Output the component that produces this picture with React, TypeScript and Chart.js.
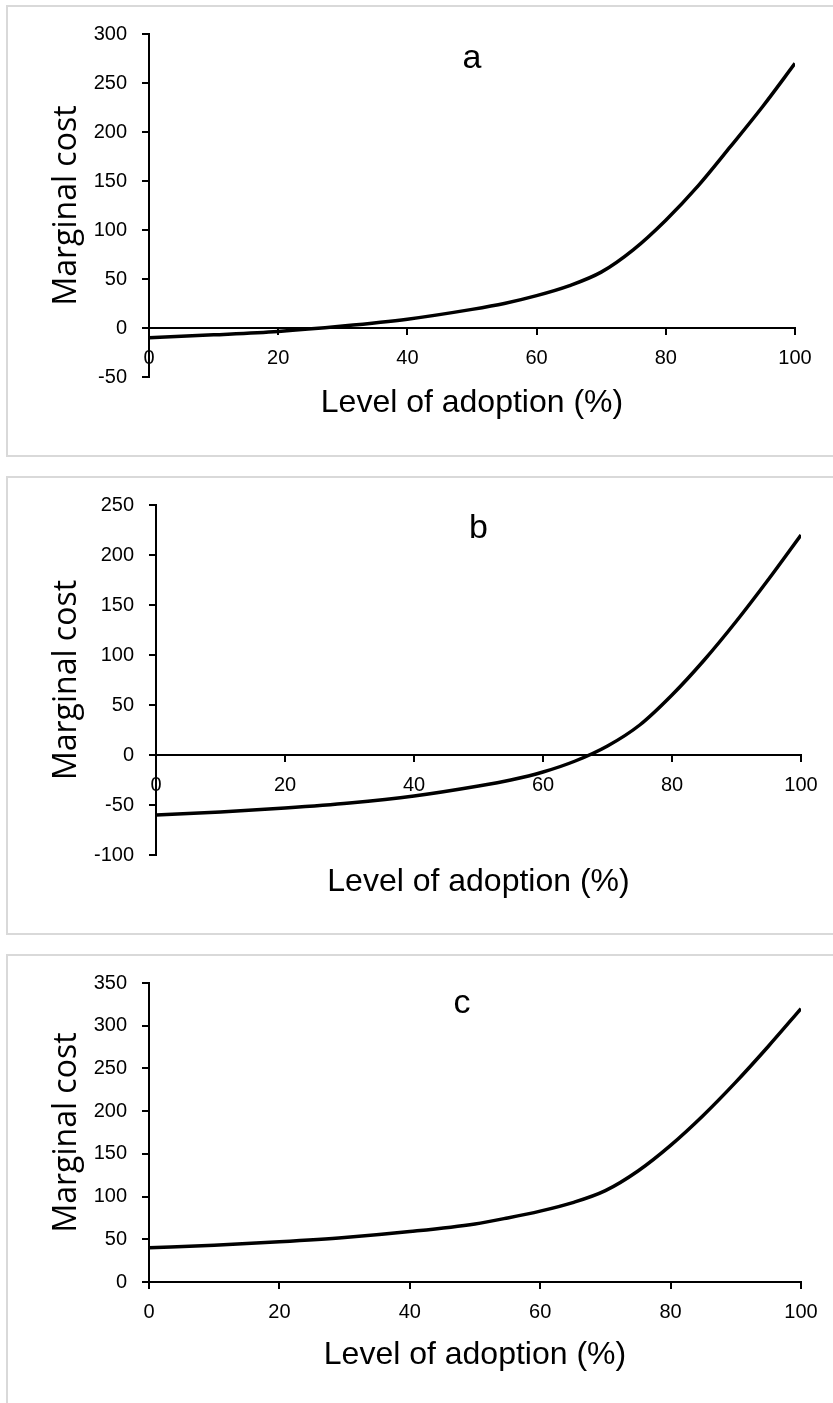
import React, { useEffect, useRef } from "react";
import { Chart, registerables } from "chart.js";

Chart.register(...registerables);

// ---------------- data ----------------
const adoption = [0, 10, 20, 30, 40, 50, 55, 60, 65, 70, 75, 80, 85, 90, 95, 100];
const costA = [-10, -7, -3.5, 2, 9, 19, 25, 33, 43, 57, 80, 110, 145, 185, 226, 270];
const costB = [-60, -57, -53, -48, -41, -31, -25, -17, -6, 9, 30, 60, 95, 134, 176, 220];
const costC = [40, 43, 47, 52, 59, 68, 75, 83, 93, 107, 130, 160, 195, 234, 276, 320];

const yRangeA = [-50, 300];
const yRangeB = [-100, 250];
const yRangeC = [0, 350];
const yStep = 50;
const xRange = [0, 100];
const xStep = 20;

const panelLetters = ["a", "b", "c"];
// letter anchor in data units (x centre, y baseline)
const letterAnchorX = [50, 50, 48];
const letterAnchorY = [265, 217, 315];

const xTitle = "Level of adoption (%)";
const yTitle = "Marginal cost";

// ---------------- layout (pixels) ----------------
const W = 833;
type Layout = {
  canvasTop: number;
  canvasHeight: number;
  plotTop: number;
  plotBottom: number;
  plotLeft: number;
  plotRight: number;
  titleCenter: number;
  frameTop: number;
  frameBottom: number | null;
};

const layouts: Layout[] = [
  { canvasTop: 0, canvasHeight: 450, plotTop: 34, plotBottom: 377, plotLeft: 149, plotRight: 795, titleCenter: 403, frameTop: 5, frameBottom: 457 },
  { canvasTop: 460, canvasHeight: 470, plotTop: 505, plotBottom: 855, plotLeft: 156, plotRight: 801, titleCenter: 882, frameTop: 476, frameBottom: 935 },
  { canvasTop: 940, canvasHeight: 463, plotTop: 983, plotBottom: 1282, plotLeft: 149, plotRight: 801, titleCenter: 1355, frameTop: 954, frameBottom: null },
];

const TICK_FONT = { family: "'Liberation Sans', Arial, sans-serif", size: 20 };
const XTITLE_FONT = { family: "'Liberation Sans', Arial, sans-serif", size: 32, lineHeight: 1.2 };
const YTITLE_FONT = { family: "'Open Sans', 'DejaVu Sans', sans-serif", size: 32, lineHeight: 1.2 };

function Panel({ idx, values, yRange }: { idx: number; values: number[]; yRange: number[] }) {
  const ref = useRef<HTMLCanvasElement | null>(null);
  const L = layouts[idx];

  useEffect(() => {
    if (!ref.current) return;
    const lh = XTITLE_FONT.size * XTITLE_FONT.lineHeight;
    const tPadTop = L.titleCenter - L.plotBottom - lh / 2;
    const tPadBottom = L.canvasTop + L.canvasHeight - L.plotBottom - tPadTop - lh;
    const ylh = YTITLE_FONT.size * YTITLE_FONT.lineHeight;
    const yTitleCenterX = 67;

    const letterPlugin = {
      id: "panelLetter" + idx,
      afterDraw(chart: any) {
        const { ctx, scales } = chart;
        ctx.save();
        ctx.font = "34px 'Liberation Sans', Arial, sans-serif";
        ctx.fillStyle = "#000";
        ctx.textAlign = "center";
        ctx.textBaseline = "alphabetic";
        ctx.fillText(
          panelLetters[idx],
          scales.x.getPixelForValue(letterAnchorX[idx]),
          scales.y.getPixelForValue(letterAnchorY[idx])
        );
        ctx.restore();
      },
    };

    const chart = new Chart(ref.current, {
      type: "line",
      data: {
        datasets: [
          {
            data: adoption.map((x, i) => ({ x, y: values[i] })),
            borderColor: "#000",
            borderWidth: 3.5,
            pointRadius: 0,
            cubicInterpolationMode: "monotone",
            fill: false,
          } as any,
        ],
      },
      options: {
        responsive: false,
        animation: false,
        devicePixelRatio: 1,
        layout: {
          padding: { top: L.plotTop - L.canvasTop, right: W - L.plotRight, bottom: 0, left: 0 },
        },
        plugins: {
          legend: { display: false },
          tooltip: { enabled: false },
          title: {
            display: true,
            position: "bottom",
            fullSize: false,
            text: xTitle,
            color: "#000",
            font: { ...XTITLE_FONT, weight: "normal" } as any,
            padding: { top: tPadTop, bottom: tPadBottom },
          },
        },
        scales: {
          x: {
            type: "linear",
            position: { y: 0 } as any,
            min: xRange[0],
            max: xRange[1],
            ticks: {
              stepSize: xStep,
              color: "#000",
              font: TICK_FONT,
              padding: 12,
              maxRotation: 0,
              autoSkip: false,
            },
            grid: { drawOnChartArea: false, drawTicks: true, tickLength: 6, color: "#000", lineWidth: 2 },
            border: { display: true, color: "#000", width: 2 },
          },
          y: {
            type: "linear",
            position: "left",
            min: yRange[0],
            max: yRange[1],
            ticks: { stepSize: yStep, color: "#000", font: TICK_FONT, padding: 15 },
            grid: { drawOnChartArea: false, drawTicks: true, tickLength: 7, color: "#000", lineWidth: 2 },
            border: { display: true, color: "#000", width: 2 },
            title: {
              display: true,
              text: yTitle,
              color: "#000",
              font: { ...YTITLE_FONT, weight: "normal" } as any,
              padding: { top: yTitleCenterX - ylh / 2, bottom: 0 },
            },
            afterFit: (s: any) => {
              s.width = L.plotLeft;
            },
          },
        },
      } as any,
      plugins: [letterPlugin],
    });
    return () => chart.destroy();
  }, []);

  return (
    <canvas
      ref={ref}
      width={W}
      height={L.canvasHeight}
      style={{ position: "absolute", left: 0, top: L.canvasTop, width: W, height: L.canvasHeight }}
    />
  );
}

function Frame({ L }: { L: Layout }) {
  const style: React.CSSProperties = {
    position: "absolute",
    left: 6,
    top: L.frameTop,
    width: 900,
    boxSizing: "border-box",
    borderLeft: "2px solid #d9d9d9",
    borderTop: "2px solid #d9d9d9",
    borderBottom: L.frameBottom !== null ? "2px solid #d9d9d9" : "none",
    height: L.frameBottom !== null ? L.frameBottom - L.frameTop : 1403 - L.frameTop + 20,
  };
  return <div style={style} />;
}

export default function App() {
  return (
    <div
      style={{
        position: "absolute",
        left: 0,
        top: 0,
        width: W,
        height: 1403,
        overflow: "hidden",
        background: "#fff",
      }}
    >
      {layouts.map((L, i) => (
        <Frame key={"f" + i} L={L} />
      ))}
      <Panel idx={0} values={costA} yRange={yRangeA} />
      <Panel idx={1} values={costB} yRange={yRangeB} />
      <Panel idx={2} values={costC} yRange={yRangeC} />
    </div>
  );
}
